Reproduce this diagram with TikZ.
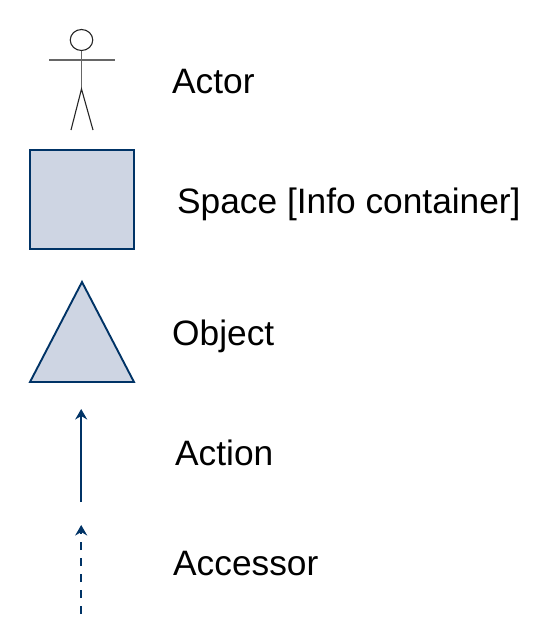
\documentclass[tikz,border=0pt]{standalone}
\usepackage{fontspec}
\setmainfont{Liberation Sans}
\usetikzlibrary{arrows.meta,shapes.geometric}
\definecolor{navy}{RGB}{0,51,102}
\definecolor{fillblue}{RGB}{206,213,227}
\tikzset{
  x=1pt,y=-1pt,
  label text/.style={anchor=base west,inner sep=0pt,font=\fontsize{35.3}{40}\selectfont,text=black},
  stick/.style={draw=black!85,line width=1.1pt},
  shapebox/.style={draw=navy,fill=fillblue,line width=2.2pt,line join=miter},
  arrowline/.style={draw=navy,line width=2.1pt,-{Stealth[length=10.5pt,width=12pt,inset=3.5pt]}}
}
\begin{document}
\begin{tikzpicture}
\useasboundingbox (0,0) rectangle (548,643);
% actor
\node[draw=black!85,line width=1.1pt,ellipse,minimum width=22.5pt,minimum height=21pt,inner sep=0pt] (head) at (81.5,40) {};
\coordinate (hip) at (81.5,89);
\coordinate (armL) at (49,60);
\coordinate (armR) at (115,60);
\coordinate (footL) at (71,130);
\coordinate (footR) at (93,130);
\draw[stick,draw=black!60,line width=1.4pt] (head.south) -- (hip);
\draw[stick,draw=black!60,line width=1.4pt] (armL) -- (armR);
\draw[stick] (footL) -- (hip) -- (footR);
% space
\path[shapebox] (30,150) rectangle (134,249);
% object
\path[shapebox,line width=1.9pt] (82,282) -- (134,382) -- (30,382) -- cycle;
% action
\coordinate (acS) at (81.2,502);
\coordinate (acE) at (81.2,409);
\draw[arrowline] (acS) -- (acE);
% accessor
\coordinate (axS) at (81.2,614);
\coordinate (axE) at (81.2,525);
\draw[arrowline,dash pattern=on 8pt off 8pt] (axS) -- (axE);
% labels
\node[label text] (lActor) at (172,93) {Actor};
\node[label text] (lSpace) at (177,213) {Space [Info container]};
\node[label text] (lObject) at (172,345) {Object};
\node[label text] (lAction) at (175,465) {Action};
\node[label text] (lAccessor) at (173,575) {Accessor};
\end{tikzpicture}
\end{document}
